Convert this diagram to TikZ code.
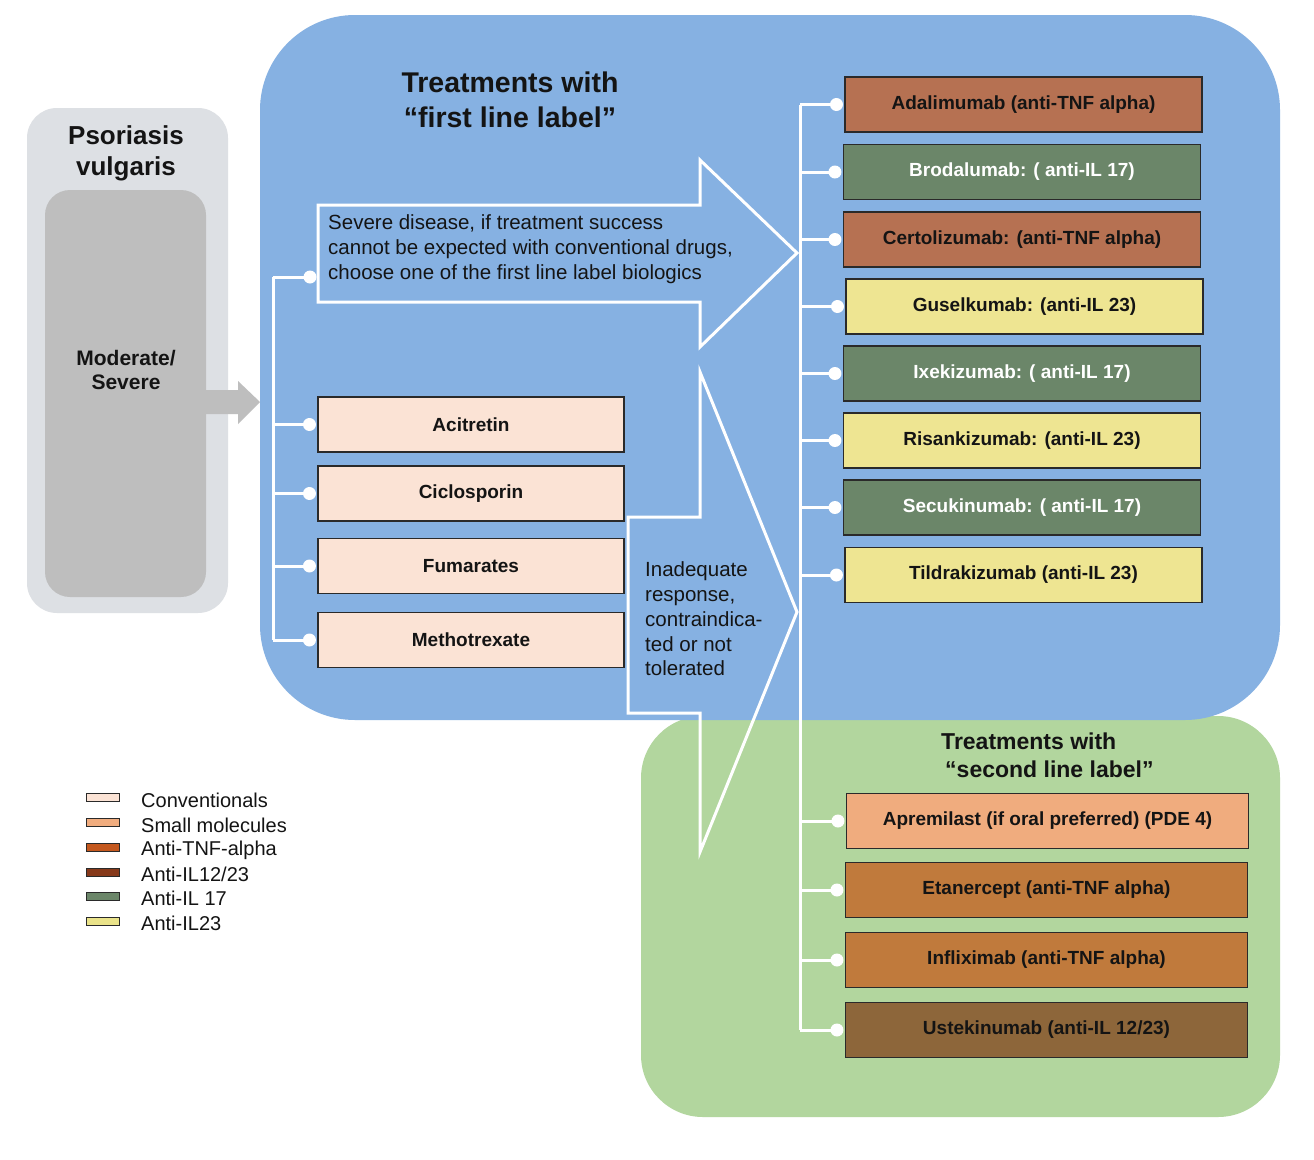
\documentclass[tikz,border=0pt]{standalone}
\usepackage{fontspec}
\setmainfont{Liberation Sans}
\definecolor{bluebg}{HTML}{86B1E2}
\definecolor{greenbg}{HTML}{B2D69E}
\definecolor{grayout}{HTML}{DDE0E4}
\definecolor{grayin}{HTML}{BEBEBE}
\definecolor{txt}{HTML}{141414}
\definecolor{boxline}{HTML}{2A2A2A}
\definecolor{convc}{HTML}{FBE3D5}
\definecolor{tnfA}{HTML}{B67152}
\definecolor{ilsev}{HTML}{6B8669}
\definecolor{iltw}{HTML}{EEE592}
\definecolor{smallm}{HTML}{F0AC7E}
\definecolor{tnfB}{HTML}{C07A3C}
\definecolor{ustek}{HTML}{8D663A}
\definecolor{legtnf}{HTML}{C4581E}
\definecolor{legil}{HTML}{86391A}
\definecolor{legiltw}{HTML}{EAE38A}
\begin{document}
\begin{tikzpicture}[x=1pt,y=-1pt,
  wline/.style={white, line width=3pt},
  box/.style={draw=boxline, line width=1.1pt, rectangle, minimum height=55pt, inner sep=0pt,
    font=\bfseries\fontsize{19}{22}\selectfont, text=txt},
  conv/.style={box, fill=convc, minimum width=306pt},
  first/.style={box, minimum width=357pt},
  second/.style={box, minimum width=402pt},
  leg/.style={draw=boxline, line width=0.8pt, minimum width=33pt, minimum height=8pt, inner sep=0pt},
  legt/.style={anchor=west, font=\fontsize{20}{24}\selectfont, text=txt, inner sep=0pt},
  plain/.style={font=\fontsize{20.5}{24.8}\selectfont, text=txt, inner sep=0pt, align=left}
]
\useasboundingbox (0,0) rectangle (1314,1159);
\fill[white] (0,0) rectangle (1314,1159);

% backgrounds
\fill[greenbg, rounded corners=62pt] (641,716) rectangle (1280,1117);
\fill[bluebg, rounded corners=95pt] (260,15) rectangle (1280,720);
\fill[grayout, rounded corners=30pt] (27,108) rectangle (228,613);
\node[fill=grayin, rounded corners=25pt, minimum width=161pt, minimum height=407pt, inner sep=0pt] (sev) at (125.5,393.5) {};
\node[font=\bfseries\fontsize{26}{31}\selectfont, align=center, text=txt, inner sep=0pt] (pso) at (126,153) {Psoriasis\\vulgaris};
\node[font=\bfseries\fontsize{21}{24}\selectfont, align=center, text=txt, inner sep=0pt] (sevt) at (126,370) {Moderate/\\Severe};
\fill[grayin] (sev.east |- 0,390) -- (238,390) -- (238,381) -- (260,402) -- (238,424) -- (238,414) -- (sev.east |- 0,414) -- cycle;

% titles
\node[font=\bfseries\fontsize{28.5}{35}\selectfont, align=center, text=txt, inner sep=0pt] (t1) at (510,100) {Treatments with\\“first line label”};
\node[font=\bfseries\fontsize{23}{28}\selectfont, align=left, text=txt, inner sep=0pt, anchor=west] (t2) at (941,755) {Treatments with\\\hspace*{4pt}“second line label”};

% big white outlined arrows
\draw[wline, line join=miter] (318,205) -- (700,205) -- (700,160) -- (797,253) -- (700,347) -- (700,302) -- (318,302) -- cycle;
\draw[wline, line join=miter] (628,517) -- (700,517) -- (700,372) -- (797,612) -- (700,852) -- (700,713) -- (628,713) -- cycle;
\coordinate (a1) at (318,277);
\node[plain, anchor=west] (a1t) at (328,249) {Severe disease, if treatment success\\cannot be expected with conventional drugs,\\choose one of the first line label biologics};
\node[plain, anchor=west] (a2t) at (645,619) {Inadequate\\response,\\contraindica-\\ted or not\\tolerated};

% conventional boxes
\node[conv] (aci) at (471,424.5) {Acitretin};
\node[conv] (cic) at (471,493.5) {Ciclosporin};
\node[conv] (fum) at (471,566) {Fumarates};
\node[conv] (met) at (471,640) {Methotrexate};

% first line boxes
\node[first, fill=tnfA] (ada) at (1023.5,104.5) {Adalimumab (anti-TNF alpha)};
\node[first, fill=ilsev, text=white] (bro) at (1022,172) {Brodalumab: ( anti-IL 17)};
\node[first, fill=tnfA] (cer) at (1022,239.5) {Certolizumab: (anti-TNF alpha)};
\node[first, fill=iltw] (gus) at (1024.5,306.5) {Guselkumab: (anti-IL 23)};
\node[first, fill=ilsev, text=white] (ixe) at (1022,373.5) {Ixekizumab: ( anti-IL 17)};
\node[first, fill=iltw] (ris) at (1022,440.5) {Risankizumab: (anti-IL 23)};
\node[first, fill=ilsev, text=white] (sec) at (1022,507.5) {Secukinumab: ( anti-IL 17)};
\node[first, fill=iltw] (til) at (1023.5,575) {Tildrakizumab (anti-IL 23)};

% second line boxes
\node[second, fill=smallm] (apr) at (1047.5,821) {Apremilast (if oral preferred) (PDE 4)};
\node[second, fill=tnfB] (eta) at (1046.5,890) {Etanercept (anti-TNF alpha)};
\node[second, fill=tnfB] (inf) at (1046.5,960) {Infliximab (anti-TNF alpha)};
\node[second, fill=ustek] (ust) at (1046.5,1030) {Ustekinumab (anti-IL 12/23)};

% left tree
\coordinate (ltop) at (273,277);
\coordinate (lbot) at (273,640);
\draw[wline] (ltop) -- (lbot);
\draw[wline] (ltop) -- ([xshift=-8pt]a1);
\fill[white] ([xshift=-8pt]a1) circle (6.5pt);
\foreach \b in {aci,cic,fum,met}{
  \draw[wline] (ltop |- \b.west) -- ([xshift=-8pt]\b.west);
  \fill[white] ([xshift=-8pt]\b.west) circle (6.5pt);
}

% right tree
\coordinate (rtop) at (800,104.5);
\coordinate (rbot) at (800,1030);
\draw[wline] (rtop) -- (rbot);
\foreach \b in {ada,bro,cer,gus,ixe,ris,sec,til,apr,eta,inf,ust}{
  \draw[wline] (rtop |- \b.west) -- ([xshift=-8pt]\b.west);
  \fill[white] ([xshift=-8pt]\b.west) circle (6.5pt);
}

% legend
\node[leg, fill=convc] (l1) at (103,797.5) {};
\node[leg, fill=smallm] (l2) at (103,822) {};
\node[leg, fill=legtnf] (l3) at (103,847) {};
\node[leg, fill=legil] (l4) at (103,872) {};
\node[leg, fill=ilsev] (l5) at (103,896) {};
\node[leg, fill=legiltw] (l6) at (103,921) {};
\node[legt] (l1t) at (141,800) {Conventionals};
\node[legt] (l2t) at (141,825) {Small molecules};
\node[legt] (l3t) at (141,850) {Anti-TNF-alpha};
\node[legt] (l4t) at (141,874.5) {Anti-IL12/23};
\node[legt] (l5t) at (141,898.5) {Anti-IL 17};
\node[legt] (l6t) at (141,923) {Anti-IL23};
\end{tikzpicture}
\end{document}
